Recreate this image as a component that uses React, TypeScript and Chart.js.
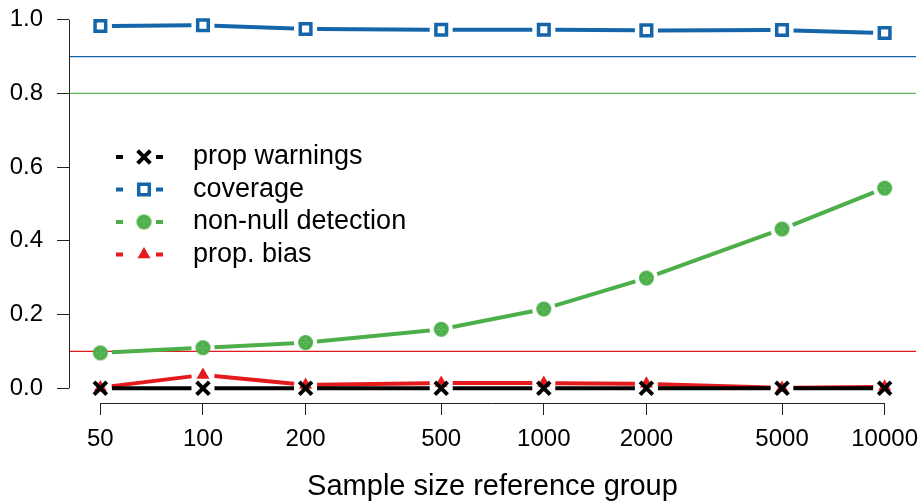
import React, { useEffect, useRef } from 'react';
import { Chart, registerables } from 'chart.js';
import { drawPoint } from 'chart.js/helpers';

Chart.register(...registerables);

// ---------- data ----------
const sampleSizes = [50, 100, 200, 500, 1000, 2000, 5000, 10000];
const propWarnings = [0, 0, 0, 0, 0, 0, 0, 0];
const coverage = [0.983, 0.985, 0.975, 0.973, 0.973, 0.971, 0.972, 0.964];
const nonNullDetection = [0.096, 0.11, 0.124, 0.16, 0.215, 0.299, 0.432, 0.543];
const propBias = [0.002, 0.036, 0.009, 0.014, 0.014, 0.012, 0.001, 0.004];
const yTickValues = [0, 0.2, 0.4, 0.6, 0.8, 1.0];
const seriesLabels = ['prop warnings', 'coverage', 'non-null detection', 'prop. bias'];
const referenceValues = [0.9, 0.8, 0.1];
const xTitle = 'Sample size reference group';

// ---------- styles ----------
const BLACK = '#000000';
const BLUE = '#1465AA';
const GREEN = '#4DAF4A';
const RED = '#E41A1C';
const AXIS = '#222222';
const referenceColors = ['#1465AA', '#5DBB5A', '#E41A1C'];
const FONT = "'Liberation Sans', Arial, Helvetica, sans-serif";
const GAP = 11.5;

const logSpan = Math.log10(10000 / 50);
const X_MIN = Math.pow(10, Math.log10(50) - 0.04 * logSpan);
const X_MAX = Math.pow(10, Math.log10(10000) + 0.04 * logSpan);

function gapDash(ctx: any) {
  const p0 = ctx.p0;
  const p1 = ctx.p1;
  const L = Math.hypot(p1.x - p0.x, p1.y - p0.y);
  const d = Math.max(L - 2 * GAP, 0);
  return [0, GAP, d, L + 100 + ctx.p0DataIndex];
}

function makeDetectionMarker(): HTMLCanvasElement {
  const size = 17;
  const c = document.createElement('canvas');
  c.width = size;
  c.height = size;
  const g = c.getContext('2d')!;
  const m = size / 2;
  g.fillStyle = GREEN;
  g.beginPath();
  g.arc(m, m, 7.5, 0, Math.PI * 2);
  g.fill();
  g.fillStyle = 'rgba(255,255,255,0.35)';
  for (const o of [-4, -2, 2, 4]) {
    g.fillRect(m + o - 0.5, m - 0.5, 1, 1);
    g.fillRect(m - 0.5, m + o - 0.5, 1, 1);
  }
  return c;
}

const toPoints = (vals: number[]) => sampleSizes.map((x, i) => ({ x, y: vals[i] }));

const refLinesPlugin = {
  id: 'refLines',
  beforeDatasetsDraw(chart: any) {
    const { ctx, chartArea, scales } = chart;
    referenceValues.forEach((v, i) => {
      const py = scales.y.getPixelForValue(v);
      ctx.save();
      ctx.setLineDash([]);
      ctx.globalAlpha = 1;
      ctx.lineWidth = 1.3;
      ctx.strokeStyle = referenceColors[i];
      ctx.beginPath();
      ctx.moveTo(chartArea.left, py);
      ctx.lineTo(chartArea.right, py);
      ctx.stroke();
      ctx.restore();
    });
  },
};

const axisLinesPlugin = {
  id: 'axisLines',
  afterDraw(chart: any) {
    const { ctx, chartArea, scales } = chart;
    const { x, y } = scales;
    ctx.save();
    ctx.setLineDash([]);
    ctx.strokeStyle = AXIS;
    ctx.lineWidth = 1;
    const ax = Math.round(chartArea.left - 0.5) + 0.5;
    const ay = Math.round(chartArea.bottom - 0.5) + 0.5;
    ctx.beginPath();
    ctx.moveTo(ax, y.getPixelForValue(yTickValues[0]));
    ctx.lineTo(ax, y.getPixelForValue(yTickValues[yTickValues.length - 1]));
    ctx.moveTo(x.getPixelForValue(sampleSizes[0]), ay);
    ctx.lineTo(x.getPixelForValue(sampleSizes[sampleSizes.length - 1]), ay);
    ctx.stroke();
    ctx.restore();
  },
};

const LEGEND_TOP = 157;
const LEGEND_STEP = 32.5;

const legendPlugin = {
  id: 'insideLegend',
  afterDraw(chart: any) {
    const { ctx } = chart;
    ctx.save();
    chart.data.datasets.forEach((ds: any, i: number) => {
      const cy = LEGEND_TOP + i * LEGEND_STEP;
      ctx.setLineDash([]);
      ctx.strokeStyle = ds.borderColor;
      ctx.lineWidth = 4;
      ctx.lineCap = 'butt';
      ctx.beginPath();
      ctx.moveTo(116, cy);
      ctx.lineTo(123, cy);
      ctx.moveTo(156, cy);
      ctx.lineTo(163, cy);
      ctx.stroke();
      ctx.fillStyle = ds.pointBackgroundColor;
      ctx.strokeStyle = ds.pointBorderColor;
      ctx.lineWidth = ds.pointBorderWidth;
      drawPoint(
        ctx,
        { pointStyle: ds.pointStyle, rotation: 0, radius: ds.pointRadius, borderWidth: ds.pointBorderWidth } as any,
        144,
        cy
      );
      ctx.fillStyle = '#000';
      ctx.font = `27px ${FONT}`;
      ctx.textBaseline = 'middle';
      ctx.textAlign = 'left';
      ctx.fillText(ds.label, 193, cy);
    });
    ctx.restore();
  },
};

export default function App() {
  const ref = useRef<HTMLCanvasElement | null>(null);

  useEffect(() => {
    document.body.style.margin = '0';
    const canvas = ref.current;
    if (!canvas) return;
    const detectionMarker = makeDetectionMarker();
    const common = {
      borderWidth: 4,
      borderCapStyle: 'butt',
      tension: 0,
      clip: false,
      segment: { borderDash: gapDash },
    };
    const chart = new Chart(canvas, {
      type: 'line',
      data: {
        datasets: [
          {
            ...common,
            label: seriesLabels[0],
            data: toPoints(propWarnings),
            borderColor: BLACK,
            pointStyle: 'crossRot',
            pointRadius: 9,
            pointBorderWidth: 4,
            pointBorderColor: BLACK,
            pointBackgroundColor: BLACK,
          },
          {
            ...common,
            label: seriesLabels[1],
            data: toPoints(coverage),
            borderColor: BLUE,
            pointStyle: 'rect',
            pointRadius: 7.5,
            pointBorderWidth: 3.5,
            pointBorderColor: BLUE,
            pointBackgroundColor: '#ffffff',
          },
          {
            ...common,
            label: seriesLabels[2],
            data: toPoints(nonNullDetection),
            borderColor: GREEN,
            pointStyle: detectionMarker,
            pointRadius: 7.5,
            pointBorderWidth: 0,
            pointBorderColor: GREEN,
            pointBackgroundColor: GREEN,
          },
          {
            ...common,
            label: seriesLabels[3],
            data: toPoints(propBias),
            borderColor: RED,
            pointStyle: 'triangle',
            pointRadius: 7.5,
            pointBorderWidth: 0,
            pointBorderColor: RED,
            pointBackgroundColor: RED,
          },
        ] as any,
      },
      options: {
        animation: false,
        responsive: false,
        devicePixelRatio: 1,
        layout: { autoPadding: false, padding: { top: 5, right: 3, left: 0, bottom: 0 } },
        plugins: { legend: { display: false }, tooltip: { enabled: false } },
        events: [],
        scales: {
          x: {
            type: 'logarithmic',
            min: X_MIN,
            max: X_MAX,
            bounds: 'data',
            afterBuildTicks: (s: any) => {
              s.ticks = sampleSizes.map((v) => ({ value: v }));
            },
            afterFit: (s: any) => {
              s.height = 101;
              s.paddingLeft = 0;
              s.paddingRight = 0;
            },
            ticks: {
              callback: (v: any) => String(v),
              autoSkip: false,
              maxRotation: 0,
              minRotation: 0,
              font: { size: 24, family: FONT },
              color: '#000',
              padding: 10,
            },
            grid: { drawOnChartArea: false, drawTicks: true, tickLength: 12, color: AXIS, lineWidth: 1 },
            border: { display: false },
            title: {
              display: true,
              text: xTitle,
              font: { size: 29, family: FONT },
              color: '#000',
              padding: { top: 0, bottom: 0 },
            },
          },
          y: {
            type: 'linear',
            min: -0.04,
            max: 1.04,
            bounds: 'data',
            afterBuildTicks: (s: any) => {
              s.ticks = yTickValues.map((v) => ({ value: v }));
            },
            afterFit: (s: any) => {
              s.width = 69;
              s.paddingTop = 0;
              s.paddingBottom = 0;
            },
            ticks: {
              callback: (v: any) => Number(v).toFixed(1),
              font: { size: 24, family: FONT },
              color: '#000',
              padding: 14,
            },
            grid: { drawOnChartArea: false, drawTicks: true, tickLength: 12, color: AXIS, lineWidth: 1 },
            border: { display: false },
          },
        },
      } as any,
      plugins: [refLinesPlugin, axisLinesPlugin, legendPlugin],
    });
    return () => chart.destroy();
  }, []);

  return (
    <div style={{ width: 919, height: 504 }}>
      <canvas ref={ref} width={919} height={504} style={{ display: 'block', width: 919, height: 504 }} />
    </div>
  );
}
